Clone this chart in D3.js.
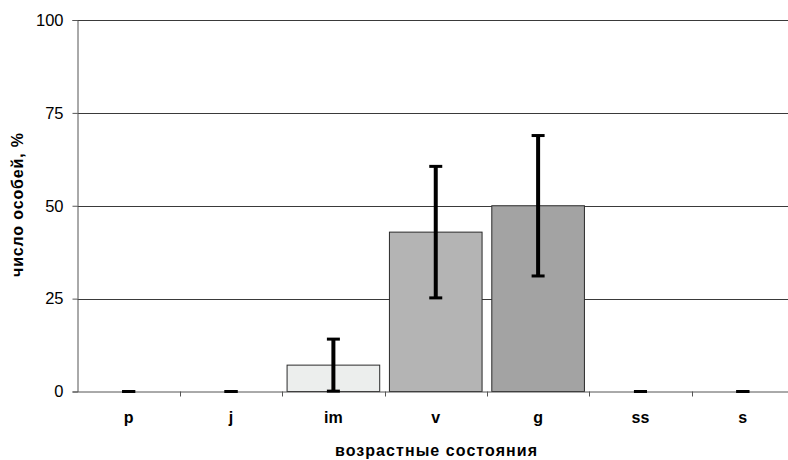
<!DOCTYPE html>
<html><head><meta charset="utf-8">
<script src="https://cdn.jsdelivr.net/npm/d3@7"></script>
<style>body{margin:0;background:#fff}svg{display:block}</style>
</head><body>
<svg id="c" width="788" height="460"></svg>
<script>
const categories = ['p','j','im','v','g','ss','s'];
const values = [0, 0, 7.1, 42.9, 50, 0, 0];
const errors = [0, 0, 7.0, 17.7, 18.9, 0, 0];
const barColors = ['#ffffff','#ffffff','#eceeed','#b4b4b4','#a3a3a3','#ffffff','#ffffff'];
const yTicks = [0, 25, 50, 75, 100];
const xTitle = 'возрастные состояния';
const yTitle = 'число особей, %';

(function () {
const svg = d3.select('#c');
const mLeft = 77.5, mRight = 794, mTop = 20, mBottom = 391.5;
const x = d3.scaleBand().domain(categories).range([mLeft, mRight]).padding(0);
const y = d3.scaleLinear().domain([0, 100]).range([mBottom, mTop]);
const font = 'Liberation Sans, Arial, sans-serif';

// gridlines
svg.append('g').selectAll('line').data(yTicks.filter(d => d > 0)).join('line')
  .attr('x1', mLeft).attr('x2', mRight)
  .attr('y1', d => Math.round(y(d)) + 0.5).attr('y2', d => Math.round(y(d)) + 0.5)
  .attr('stroke', '#3a3a3a').attr('stroke-width', 1);

// bars
const bw = x.bandwidth() * 0.905;
const data = categories.map((c, i) => ({c, v: values[i], e: errors[i], col: barColors[i]}));
svg.append('g').selectAll('rect').data(data.filter(d => d.v > 0)).join('rect')
  .attr('x', d => x(d.c) + (x.bandwidth() - bw) / 2)
  .attr('width', bw)
  .attr('y', d => y(d.v))
  .attr('height', d => y(0) - y(d.v))
  .attr('fill', d => d.col).attr('stroke', '#2a2a2a').attr('stroke-width', 1);

// x axis
const xAxis = d3.axisBottom(x).tickSize(0).tickPadding(0).tickFormat(() => '');
const gx = svg.append('g').attr('transform', `translate(0,${mBottom})`).call(xAxis);
gx.select('.domain').attr('stroke', '#555').attr('d', `M${mLeft},0.5H${mRight}`);
gx.selectAll('.bt').data(categories.slice(1)).join('line').attr('class','bt')
  .attr('x1', d => Math.round(x(d)) + 0.5).attr('x2', d => Math.round(x(d)) + 0.5)
  .attr('y1', 0).attr('y2', 5).attr('stroke', '#555');
svg.append('g').selectAll('text').data(categories).join('text')
  .attr('x', d => x(d) + x.bandwidth() / 2).attr('y', 423)
  .attr('text-anchor', 'middle').attr('font-family', font)
  .attr('font-size', 16).attr('font-weight', 'bold').attr('fill', '#000')
  .text(d => d);

// y axis
const yAxis = d3.axisLeft(y).tickValues(yTicks).tickSize(5).tickPadding(9);
const gy = svg.append('g').attr('transform', `translate(${mLeft},0)`).call(yAxis);
gy.select('.domain').attr('stroke', '#555');
gy.selectAll('.tick line').attr('stroke', '#555');
gy.selectAll('.tick text').attr('font-family', font).attr('font-size', 16.5).attr('fill', '#000');

// error bars
const eb = svg.append('g');
data.forEach(d => {
  const cx = x(d.c) + x.bandwidth() / 2;
  if (d.e > 0) {
    eb.append('line').attr('x1', cx).attr('x2', cx)
      .attr('y1', y(d.v + d.e)).attr('y2', y(Math.max(0, d.v - d.e)))
      .attr('stroke', '#000').attr('stroke-width', 4);
  }
  [d.v + d.e, Math.max(0, d.v - d.e)].forEach(val => {
    eb.append('line').attr('x1', cx - 6.5).attr('x2', cx + 6.5)
      .attr('y1', y(val)).attr('y2', y(val))
      .attr('stroke', '#000').attr('stroke-width', 3);
  });
});

// titles
svg.append('text').attr('x', 436).attr('y', 456).attr('text-anchor', 'middle')
  .attr('font-family', font).attr('font-size', 16).attr('font-weight', 'bold')
  .attr('textLength', 202).attr('lengthAdjust', 'spacing')
  .text(xTitle);
svg.append('text').attr('transform', 'translate(23,205) rotate(-90)').attr('text-anchor', 'middle')
  .attr('font-family', font).attr('font-size', 16).attr('font-weight', 'bold')
  .attr('textLength', 144).attr('lengthAdjust', 'spacing')
  .text(yTitle);
})();
</script>
</body></html>
